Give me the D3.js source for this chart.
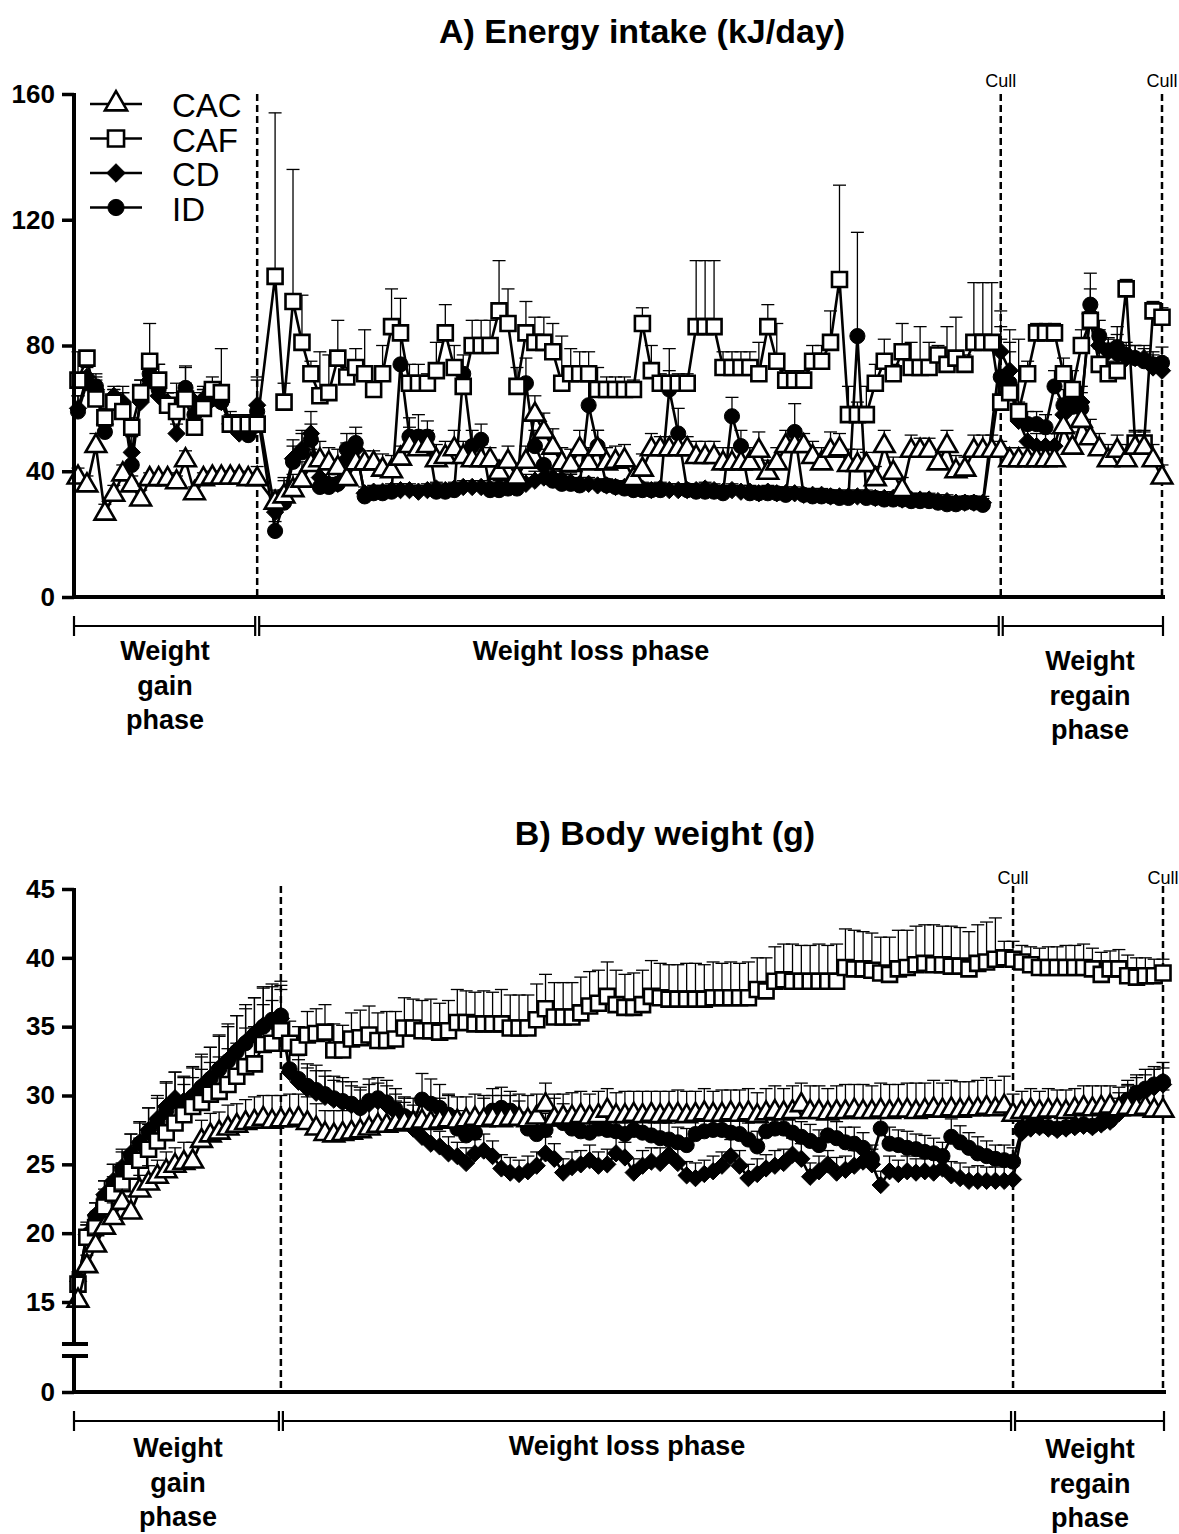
<!DOCTYPE html>
<html>
<head>
<meta charset="utf-8">
<script src="https://cdn.jsdelivr.net/npm/d3@7"></script>
<style>
body { margin: 0; background: #fff; }
text { font-family: "Liberation Sans", Arial, Helvetica, sans-serif; fill: #000; }
</style>
</head>
<body>
<svg id="chart" width="1179" height="1534"></svg>
<script>
// ---------- data ----------
var groups = ["CAC", "CAF", "CD", "ID"];
var ticksA = [0, 40, 80, 120, 160];
var ticksB = [15, 20, 25, 30, 35, 40, 45];

// panel A : energy intake (kJ/day), one value per day, day 0..121
// gain phase 0-20, (21 missing), loss phase 22-102, regain phase 103-121
var cacA = [38, 35.5, 48, 26.5, 32.5, 39, 35.5, 31, 37.5, 37.5, 37.5, 36.5, 43.5, 33, 37.5, 38, 38, 38, 38, 37.5, 37.5,
  null,
  30, 32, 34, 37, 42, 43.5, 42.5, 41, 37.5, 42.5,
  42.5, 42.5, 40.5, 40, 44, 48, 47, 48, 43.5, 44.5,
  47, 44.5, 43.5, 43.5, 43.5, 39.5, 43, 38, 43, 58,
  52.5, 47.5, 42.5, 42, 47, 42.5, 47, 42.5, 43, 43.5,
  37.5, 40.5, 47, 47, 47, 47, 47, 44.5, 44.5, 44.5,
  42.5, 42.5, 42.5, 42.5, 46.5, 39.5, 42.5, 48, 48, 48,
  44.5, 42.5, 46.5, 47, 42, 42, 42, 37.5, 48, 39.5,
  34, 46.5, 46.5, 46.5, 42.5, 48, 40, 40.5, 46.5, 46.5, 46.5,
  46.5, 43.5, 43.5, 43.5, 43.5, 43.5, 43.5, 54, 47.5, 56, 50.5, 47, 43.5, 46.5, 43.5, 47.5, 47.5, 43.5, 38];
var cacAerr = [3, 3, 4, 3, 3, 3, 3, 3, 2, 2, 2, 2, 3, 2, 2, 2, 2, 2, 2, 2, 4,
  null,
  4, 5, 5, 6, 5, 6, 5, 6, 5, 5,
  4, 4, 5, 5, 4, 6, 6, 5, 5, 5,
  6, 5, 5, 5, 4, 4, 5, 4, 5, 6,
  6, 6, 5, 5, 6, 5, 6, 5, 5, 5,
  4, 5, 5, 4, 4, 4, 4, 5, 5, 5,
  5, 5, 5, 5, 6, 4, 5, 5, 4, 4,
  5, 5, 6, 5, 5, 5, 4, 4, 5, 5,
  4, 5, 4, 4, 4, 5, 5, 4, 5, 5, 5,
  3, 4, 4, 4, 4, 4, 4, 6, 5, 6, 6, 5, 5, 5, 5, 5, 5, 5, 4];

var cafA = [69, 76, 63, 57, 62, 59, 54, 65, 75, 69, 61, 59, 63, 54, 60, 66, 65, 55, 55, 55, 55,
  null,
  102, 62, 94, 81, 71, 64, 65, 76, 70, 73,
  71, 66, 71, 86, 84, 68, 68, 68, 72, 84,
  73, 67, 80, 80, 80, 91, 87, 67, 84, 81,
  81, 78, 68, 71, 71, 71, 66, 66, 66, 66,
  66, 87, 72, 68, 68, 68, 68, 86, 86, 86,
  73, 73, 73, 73, 71, 86, 75, 69, 69, 69,
  75, 75, 81, 101, 58, 58, 58, 68, 75, 71,
  78, 73, 73, 73, 77, 74, 76, 74, 81, 81, 81,
  62, 65, 59, 71, 84, 84, 84, 71, 66, 80, 88, 74, 71, 72, 98, 49, 49, 91, 89];
var cafAerr = [9, 2, 7, 3, 4, 8, 3, 4, 12, 5, 4, 9, 10, 5, 7, 4, 14, 3, 3, 3, 5,
  null,
  52, 6, 42, 15, 4, 14, 12, 12, 3, 6,
  14, 2, 9, 12, 11, 6, 6, 3, 9, 9,
  7, 3, 8, 8, 8, 16, 11, 6, 10, 8,
  8, 9, 15, 8, 7, 7, 7, 4, 4, 4,
  3, 5, 8, 3, 11, 3, 3, 21, 21, 21,
  5, 5, 5, 5, 10, 7, 12, 3, 3, 3,
  5, 5, 10, 30, 9, 4, 9, 6, 7, 3,
  9, 8, 13, 8, 3, 12, 13, 3, 19, 19, 19,
  29, 20, 23, 4, 3, 3, 3, 5, 6, 5, 6, 5, 4, 14, 3, 4, 4, 3, 3];

var cdA = [60, 70, 66, 55, 64, 62, 46, 62, 69, 64, 62, 52, 64, 62, 63, 63, 62, 55, 52, 52, 61,
  null,
  27, 33, 44, 47, 52, 38, 36, 36, 44, 47,
  33, 33.5, 33.5, 34, 34, 34, 33.5, 34, 34.5, 34,
  34.5, 35, 35, 35, 34.5, 35, 35, 35.5, 36, 37,
  38, 38, 37.5, 36.5, 36, 36, 35.5, 35.5, 35, 35,
  34.5, 34.5, 34, 34.5, 34, 34, 34, 34, 34.5, 34,
  33.5, 34, 33.5, 33.5, 33, 33.5, 33, 33, 33, 32.5,
  32.5, 32.5, 32, 32, 32, 32, 32, 31.5, 31.5, 31.5,
  31, 31, 31, 31, 30.5, 30.5, 30, 30, 30, 30, null,
  78, 72, 56, 49.5, 48, 48, 48, 58, 62, 62, 90, 80, 78, 77, 76, 76, 76, 73, 72];
var cdAerr = [4, 3, 3, 3, 3, 3, 5, 3, 4, 4, 3, 3, 4, 3, 3, 3, 3, 3, 3, 3, 9,
  null,
  3, 5, 6, 6, 7, 4, 3, 3, 5, 5,
  2, 2, 2, 2, 2, 2, 2, 2, 2, 2,
  2, 2, 2, 2, 2, 2, 2, 2, 3, 3,
  3, 3, 3, 3, 2, 2, 2, 2, 2, 2,
  2, 2, 2, 2, 2, 2, 2, 2, 2, 2,
  2, 2, 2, 2, 2, 2, 2, 2, 2, 2,
  2, 2, 2, 2, 2, 2, 2, 2, 2, 2,
  2, 2, 2, 2, 2, 2, 2, 2, 2, 2, null,
  8, 9, 5, 4, 4, 4, 4, 5, 5, 5, 8, 5, 4, 4, 4, 4, 4, 4, 4];

var idA = [59, 68, 67, 52.5, 62, 61, 42, 64, 71, 66, 61, 60, 66.5, 58, 62, 63, 62, 55, 53, 51.5, 59,
  null,
  21, 30, 43, 46, 50, 35, 35, 36, 47, 49,
  32, 33, 33, 33.5, 74, 51, 51, 51, 33.5, 33.5,
  34, 71, 48, 50, 34, 34, 34.5, 34.5, 68, 48,
  42, 37, 36, 36, 35.5, 61, 48, 35.5, 35, 34.5,
  34, 34, 34, 34, 66, 52, 34, 33.5, 33.5, 33.5,
  33, 57.5, 48, 33, 33, 33, 33, 32.5, 52.5, 32.5,
  32, 32, 32, 31.5, 31.5, 83, 31.5, 31.5, 31, 31,
  31, 30.5, 30.5, 30.5, 30, 29.5, 29.5, 30, 30, 29.3, null,
  70, 68, 57, 55, 55, 54, 67, 61, 60.5, 60, 93, 83, 78.5, 79.5, 77, 76, 75, 74, 74.5];
var idAerr = [5, 3, 4, 4, 4, 4, 4, 5, 5, 8, 4, 5, 7, 4, 4, 5, 4, 4, 3, 3, 10,
  null,
  3, 4, 5, 6, 5, 3, 3, 3, 5, 5,
  2, 2, 2, 2, 10, 6, 7, 5, 2, 2,
  2, 6, 5, 5, 2, 2, 2, 2, 8, 5,
  5, 3, 3, 3, 2, 10, 5, 2, 2, 2,
  2, 2, 2, 2, 6, 8, 2, 2, 2, 2,
  2, 6, 5, 2, 2, 2, 2, 2, 9, 2,
  2, 2, 2, 2, 2, 33, 2, 2, 2, 2,
  2, 2, 2, 2, 2, 2, 2, 2, 2, 2, null,
  12, 10, 5, 4, 4, 4, 5, 5, 4, 5, 10, 5, 4, 4, 4, 4, 4, 4, 5];

// panel B : body weight (g), point 0..123
// gain phase 0-23, loss phase 24-106, regain phase 107-123
var cacB = [15.1, 17.6, 19.1, 20.4, 21.1, 22.2, 21.5, 23.1, 23.6, 24.1, 24.5, 24.9, 25.1, 25.2, 26.7, 27.1, 27.3, 27.6, 27.8, 28.0, 28.1, 28.3, 28.1, 28.2,
  28.2, 28.3, 28.0, 27.6, 27.2, 27.1, 27.2, 27.3, 27.4, 27.6,
  27.8, 27.8, 27.9, 28.0, 28.0, 28.1, 28.0, 28.1, 28.2, 28.1,
  28.2, 28.3, 28.2, 28.3, 28.2, 28.3, 28.3, 28.2, 28.4, 29.3,
  28.3, 28.4, 28.4, 28.5, 28.4, 28.5, 28.9, 28.5, 28.5, 28.6,
  28.5, 28.6, 28.5, 28.6, 28.6, 28.5, 28.6, 28.7, 28.6, 28.6,
  28.7, 28.6, 28.7, 28.5, 28.7, 28.8, 28.7, 28.8, 29.3, 28.8,
  28.8, 28.7, 28.8, 28.8, 28.9, 28.8, 28.8, 28.9, 28.8, 28.9,
  28.9, 28.8, 28.9, 29.0, 28.9, 29.0, 28.9, 29.0, 29.0, 29.1,
  29.0, 29.2, 28.6,
  28.8, 28.9, 28.8, 28.9, 28.9, 28.8, 29.0, 29.1, 29.0, 29.1, 29.2, 29.0, 29.1, 29.0, 29.1, 28.9, 28.9];
var cacBerr = [0.6, 0.8, 0.9, 1.0, 1.1, 1.0, 1.2, 1.1, 1.3, 1.2, 1.4, 1.3, 1.5, 1.4, 1.5, 1.6, 1.5, 1.7, 1.6, 1.7, 1.8, 1.7, 1.9, 1.8,
  1.9, 1.8, 1.9, 1.8, 1.7, 1.8, 1.7, 1.8, 1.7, 1.8,
  1.7, 1.8, 1.7, 1.8, 1.8, 1.7, 1.8, 1.7, 1.8, 1.8,
  1.7, 1.8, 1.8, 1.7, 1.8, 1.7, 1.8, 1.8, 1.7, 1.6,
  1.8, 1.7, 1.8, 1.8, 1.7, 1.8, 1.6, 1.7, 1.8, 1.7,
  1.8, 1.7, 1.8, 1.7, 1.8, 1.8, 1.7, 1.8, 1.7, 1.8,
  1.7, 1.8, 1.8, 1.7, 1.8, 1.9, 1.8, 1.9, 1.6, 1.9,
  1.9, 1.8, 1.9, 2.0, 1.9, 2.0, 1.9, 2.0, 2.0, 1.9,
  2.0, 2.1, 2.0, 2.1, 2.0, 2.1, 2.1, 2.0, 2.1, 2.2,
  2.1, 2.2, 1.5,
  1.5, 1.6, 1.5, 1.6, 1.5, 1.6, 1.5, 1.6, 1.7, 1.6, 1.5, 1.6, 1.7, 1.6, 1.7, 1.6, 1.5];

var cafB = [16.3, 19.7, 20.4, 21.9, 22.9, 23.6, 24.5, 25.3, 26.1, 26.7, 27.3, 28.0, 28.6, 29.2, 29.5, 30.1, 30.3, 30.8, 31.4, 32.1, 32.3, 33.7, 33.8, 34.7,
  33.8, 33.5, 34.4, 34.5, 34.6, 33.3, 33.3, 34.1, 34.2, 34.4,
  34.0, 34.0, 34.1, 34.9, 34.9, 34.7, 34.7, 34.6, 34.7, 35.3,
  35.3, 35.2, 35.2, 35.2, 35.2, 34.9, 34.9, 34.9, 35.5, 36.3,
  35.7, 35.7, 35.7, 36.0, 36.5, 36.7, 37.2, 36.6, 36.4, 36.4,
  36.6, 37.2, 37.1, 37.0, 37.0, 37.0, 37.0, 37.0, 37.1, 37.1,
  37.1, 37.1, 37.1, 37.7, 37.6, 38.3, 38.4, 38.3, 38.3, 38.3,
  38.3, 38.3, 38.3, 39.3, 39.2, 39.2, 39.1, 38.9, 38.8, 39.2,
  39.3, 39.5, 39.6, 39.5, 39.5, 39.4, 39.4, 39.2, 39.6, 39.7,
  39.9, 40.0, 39.9,
  39.7, 39.5, 39.3, 39.3, 39.3, 39.3, 39.3, 39.3, 39.2, 38.8, 39.2, 39.2, 38.7, 38.6, 38.7, 38.7, 38.9];
var cafBerr = [0.9, 1.1, 1.0, 1.3, 1.2, 1.5, 1.4, 1.6, 1.8, 1.7, 2.0, 1.9, 2.2, 2.1, 2.4, 2.3, 2.5, 2.6, 2.4, 2.8, 2.7, 2.9, 3.1, 3.0,
  1.6, 1.5, 1.7, 1.8, 2.0, 1.9, 1.8, 1.9, 2.0, 2.1,
  2.0, 2.1, 2.0, 2.2, 2.1, 2.2, 2.3, 2.1, 2.2, 2.4,
  2.3, 2.3, 2.4, 2.3, 2.5, 2.4, 2.4, 2.4, 2.6, 2.5,
  2.5, 2.5, 2.5, 2.6, 2.5, 2.4, 2.5, 2.5, 2.4, 2.5,
  2.5, 2.6, 2.5, 2.5, 2.5, 2.6, 2.6, 2.5, 2.6, 2.5,
  2.6, 2.5, 2.6, 2.3, 2.4, 2.5, 2.6, 2.7, 2.6, 2.6,
  2.7, 2.6, 2.7, 2.8, 2.8, 2.7, 2.7, 2.6, 2.7, 2.8,
  2.7, 2.8, 2.8, 2.9, 2.8, 2.9, 2.8, 2.7, 2.8, 2.9,
  3.0, 1.2, 1.3,
  1.2, 1.3, 1.4, 1.5, 1.5, 1.6, 1.6, 1.7, 1.5, 1.6, 1.3, 1.4, 1.5, 1.4, 1.3, 1.2, 1.0];

var cdB = [16.5, 19.9, 21.3, 22.8, 23.8, 24.8, 25.8, 26.6, 27.5, 28.3, 29.2, 29.8, 29.6, 30.0, 30.7, 31.3, 32.0, 32.6, 33.3, 33.9, 34.5, 35.1, 35.4, 35.6,
  31.7, 31.0, 30.5, 30.2, 29.9, 29.7, 29.5, 29.3, 29.1, 29.4,
  29.6, 29.3, 28.8, 28.3, 27.6, 27.0, 26.5, 26.3, 25.8, 25.6,
  25.1, 25.8, 26.0, 25.6, 24.7, 24.4, 24.3, 24.5, 24.9, 25.8,
  25.4, 24.4, 24.8, 25.0, 25.3, 24.9, 25.0, 25.8, 25.5, 24.4,
  24.9, 25.2, 25.1, 25.7, 25.1, 24.2, 24.0, 24.3, 24.5, 24.9,
  25.6, 24.9, 24.0, 24.3, 24.7, 24.9, 25.1, 25.7, 25.4, 24.1,
  24.5, 25.0, 24.4, 24.6, 24.9, 25.2, 25.0, 23.5, 24.5, 24.3,
  24.5, 24.4, 24.5, 24.4, 24.7, 24.2, 24.0, 23.8, 23.8, 23.8,
  23.8, 23.8, 23.9,
  27.3, 27.6, 27.7, 27.6, 27.5, 27.6, 27.7, 27.8, 27.7, 27.9, 28.1, 28.7, 29.5, 30.0, 30.3, 30.6, 30.8];
var cdBerr = [0.5, 0.7, 0.9, 1.0, 1.2, 1.3, 1.4, 1.5, 1.6, 1.7, 1.8, 1.9, 1.8, 2.0, 2.1, 2.2, 2.3, 2.4, 2.5, 2.4, 2.6, 2.7, 2.5, 2.4,
  1.5, 1.6, 1.5, 1.6, 1.5, 1.4, 1.5, 1.4, 1.3, 1.4,
  1.3, 1.4, 1.3, 1.2, 1.2, 1.1, 1.2, 1.1, 1.2, 1.0,
  1.1, 1.0, 1.2, 1.1, 1.0, 1.1, 1.0, 1.1, 1.0, 1.2,
  1.1, 1.0, 1.1, 1.0, 1.1, 1.0, 1.1, 1.2, 1.1, 1.0,
  1.1, 1.0, 1.1, 1.2, 1.1, 1.0, 1.1, 1.0, 1.1, 1.0,
  1.2, 1.1, 1.0, 1.1, 1.0, 1.1, 1.0, 1.2, 1.1, 1.0,
  1.1, 1.0, 1.1, 1.0, 1.1, 1.0, 1.1, 1.0, 1.1, 1.0,
  1.1, 1.0, 1.1, 1.0, 1.1, 1.0, 1.1, 1.0, 1.1, 1.0,
  1.0, 1.1, 1.0,
  1.0, 1.1, 1.0, 1.1, 1.0, 1.1, 1.0, 1.1, 1.0, 1.1, 1.2, 1.1, 1.2, 1.3, 1.2, 1.3, 1.2];

var idB = [16.6, 19.8, 21.2, 22.6, 23.6, 24.6, 25.6, 26.5, 27.3, 28.1, 28.9, 29.6, 29.4, 29.9, 30.6, 31.2, 31.9, 32.5, 33.2, 33.8, 34.4, 35.0, 35.5, 35.8,
  31.9, 31.2, 30.7, 30.4, 30.1, 29.8, 29.6, 29.4, 29.1, 29.6,
  29.8, 29.5, 29.0, 28.5, 28.0, 29.7, 29.4, 29.1, 28.6, 27.6,
  27.1, 27.3, 28.3, 28.9, 29.1, 28.9, 28.3, 27.6, 27.2, 27.5,
  28.3, 28.0, 27.6, 27.4, 27.3, 27.6, 27.5, 27.4, 27.2, 27.5,
  27.3, 27.1, 26.9, 26.8, 26.6, 26.4, 27.2, 27.4, 27.5, 27.5,
  27.3, 27.2, 26.8, 26.3, 27.4, 27.6, 27.6, 27.3, 27.0, 26.7,
  26.4, 27.1, 26.9, 26.6, 26.5, 26.2, 25.4, 27.6, 26.5, 26.4,
  26.2, 26.1, 25.9, 25.8, 25.6, 27.0, 26.6, 26.2, 25.8, 25.6,
  25.4, 25.3, 25.2,
  27.6, 27.8, 27.8, 27.7, 27.6, 27.7, 27.8, 27.9, 27.8, 28.0, 28.2, 28.9, 29.7, 30.2, 30.5, 30.8, 31.0];
var idBerr = [0.5, 0.8, 1.0, 1.2, 1.4, 1.3, 1.6, 1.5, 1.8, 1.7, 2.0, 2.1, 1.9, 2.2, 2.4, 2.3, 2.5, 2.7, 2.6, 2.8, 2.7, 2.9, 2.6, 2.5,
  1.6, 1.7, 1.6, 1.8, 1.7, 1.6, 1.7, 1.6, 1.5, 1.6,
  1.5, 1.6, 1.5, 1.4, 1.3, 1.9, 1.8, 1.7, 1.5, 1.3,
  1.2, 1.3, 1.5, 1.6, 1.5, 1.4, 1.3, 1.2, 1.3, 1.2,
  1.5, 1.4, 1.3, 1.2, 1.3, 1.2, 1.3, 1.2, 1.3, 1.2,
  1.3, 1.2, 1.1, 1.2, 1.1, 1.2, 1.4, 1.3, 1.2, 1.3,
  1.2, 1.3, 1.2, 1.1, 1.3, 1.2, 1.3, 1.2, 1.1, 1.2,
  1.1, 1.3, 1.2, 1.1, 1.2, 1.1, 1.0, 1.4, 1.2, 1.1,
  1.2, 1.1, 1.2, 1.1, 1.0, 1.3, 1.2, 1.1, 1.2, 1.1,
  1.0, 1.1, 1.0,
  1.2, 1.1, 1.2, 1.1, 1.2, 1.1, 1.2, 1.1, 1.2, 1.1, 1.2, 1.3, 1.4, 1.3, 1.4, 1.3, 1.4];

// phase boundaries (in point index)
var boundsA = [20, 103, 121];
var boundsB = [23, 106, 123];
// ---------------------------------------------

var svg = d3.select("#chart");
var diamond = { draw: function (ctx, size) { var r = Math.sqrt(size / 2); ctx.moveTo(0, -r); ctx.lineTo(r, 0); ctx.lineTo(0, r); ctx.lineTo(-r, 0); ctx.closePath(); } };

var styles = {
  CAC: { type: d3.symbolTriangle, size: 185, fill: "#fff", sw: 2.6 },
  CAF: { type: d3.symbolSquare, size: 225, fill: "#fff", sw: 2.6 },
  CD:  { type: diamond, size: 150, fill: "#000", sw: 1 },
  ID:  { type: d3.symbolCircle, size: 180, fill: "#000", sw: 1 }
};

function drawSeries(g, x, y, name, values, errs) {
  var st = styles[name];
  var pts = values.map(function (v, i) { return { i: i, v: v, e: errs[i] }; })
                  .filter(function (d) { return d.v != null; });
  var eb = g.append("g").attr("stroke", "#000").attr("stroke-width", 1.3);
  pts.forEach(function (d) {
    if (!d.e) return;
    var cx = x(d.i), yt = y(d.v + d.e);
    eb.append("line").attr("x1", cx).attr("x2", cx).attr("y1", y(d.v)).attr("y2", yt);
    eb.append("line").attr("x1", cx - 6.5).attr("x2", cx + 6.5).attr("y1", yt).attr("y2", yt);
  });
  g.append("path").datum(pts)
    .attr("d", d3.line().x(function (d) { return x(d.i); }).y(function (d) { return y(d.v); }))
    .attr("fill", "none").attr("stroke", "#000").attr("stroke-width", 2.6).attr("stroke-linejoin", "round");
  g.selectAll(null).data(pts).enter().append("path")
    .attr("transform", function (d) { return "translate(" + x(d.i) + "," + y(d.v) + ")"; })
    .attr("d", d3.symbol().type(st.type).size(st.size))
    .attr("fill", st.fill).attr("stroke", "#000").attr("stroke-width", st.sw);
}

function styleAxis(a) {
  a.select(".domain").remove();
  a.selectAll(".tick line").attr("stroke", "#000").attr("stroke-width", 3.5);
  a.selectAll(".tick text").attr("font-size", 26).attr("font-weight", "bold")
    .attr("font-family", '"Liberation Sans", Arial, sans-serif').attr("fill", "#000");
}

function vline(g, x, y1, y2, w, dash) {
  var l = g.append("line").attr("x1", x).attr("x2", x).attr("y1", y1).attr("y2", y2)
    .attr("stroke", "#000").attr("stroke-width", w);
  if (dash) l.attr("stroke-dasharray", dash);
  return l;
}
function hline(g, x1, x2, y, w) {
  return g.append("line").attr("x1", x1).attr("x2", x2).attr("y1", y).attr("y2", y)
    .attr("stroke", "#000").attr("stroke-width", w);
}

function phaseBracket(g, x, bounds, yb, axisX) {
  var edges = [axisX, x(bounds[0]), x(bounds[1]), x(bounds[2]) + 1];
  for (var k = 0; k < 3; k++) {
    var a = edges[k] + (k > 0 ? 2 : 0), b = edges[k + 1] - (k < 2 ? 2 : 0);
    hline(g, a, b, yb, 2.2);
    vline(g, a, yb - 10, yb + 10, 2.2);
    vline(g, b, yb - 10, yb + 10, 2.2);
  }
}

function label(g, x, y, lines, size) {
  lines.forEach(function (t, k) {
    g.append("text").attr("x", x).attr("y", y + k * 34.5).attr("text-anchor", "middle")
      .attr("font-size", size).attr("font-weight", "bold").text(t);
  });
}

function cull(g, x, bounds, y) {
  [bounds[1], bounds[2]].forEach(function (b) {
    g.append("text").attr("x", x(b)).attr("y", y).attr("text-anchor", "middle")
      .attr("font-size", 18).text("Cull");
  });
}

var axisX = 74;

// ================= Panel A =================
var gA = svg.append("g");
var xA = d3.scaleLinear().domain([0, 121]).range([78, 1162]);
var yA = d3.scaleLinear().domain([0, 160]).range([597, 94]);

gA.append("text").attr("x", 642).attr("y", 43).attr("text-anchor", "middle")
  .attr("font-size", 34).attr("font-weight", "bold").text("A) Energy intake (kJ/day)");

boundsA.forEach(function (b) { vline(gA, xA(b), yA(160), yA(0), 2.5, "7,4"); });
cull(gA, xA, boundsA, 87);

var dataA = { CAC: [cacA, cacAerr], CAF: [cafA, cafAerr], CD: [cdA, cdAerr], ID: [idA, idAerr] };
groups.slice().reverse().forEach(function (n) { drawSeries(gA, xA, yA, n, dataA[n][0], dataA[n][1]); });

var axA = gA.append("g").attr("transform", "translate(" + axisX + ",0)")
  .call(d3.axisLeft(yA).tickValues(ticksA).tickSize(12).tickSizeOuter(0).tickPadding(7));
styleAxis(axA);
vline(gA, axisX, yA(160) - 1, yA(0) + 2, 4);
hline(gA, axisX - 2, xA(121) + 3, yA(0), 4);

// legend
groups.forEach(function (n, k) {
  var ly = 104 + k * 34.5;
  hline(gA, 90, 142, ly, 2.4);
  gA.append("path").attr("transform", "translate(116," + ly + ")")
    .attr("d", d3.symbol().type(styles[n].type).size(styles[n].size * 1.15))
    .attr("fill", styles[n].fill).attr("stroke", "#000").attr("stroke-width", styles[n].sw);
  gA.append("text").attr("x", 172).attr("y", ly + 13).attr("font-size", 33).text(n);
});

phaseBracket(gA, xA, boundsA, 626, axisX);
label(gA, 165, 660, ["Weight", "gain", "phase"], 27);
label(gA, 591, 660, ["Weight loss phase"], 27);
label(gA, 1090, 670, ["Weight", "regain", "phase"], 27);

// ================= Panel B =================
var gB = svg.append("g");
var xB = d3.scaleLinear().domain([0, 123]).range([78, 1163]);
var yB = d3.scaleLinear().domain([15, 45]).range([1302, 889]);
var yB0 = d3.scaleLinear().domain([0, 10]).range([1392, 1356]);

gB.append("text").attr("x", 665).attr("y", 845).attr("text-anchor", "middle")
  .attr("font-size", 34).attr("font-weight", "bold").text("B) Body weight (g)");

boundsB.forEach(function (b) { vline(gB, xB(b), yB(45) - 3, yB0(0), 2.5, "7,4"); });
cull(gB, xB, boundsB, 884);

var dataB = { CAC: [cacB, cacBerr], CAF: [cafB, cafBerr], CD: [cdB, cdBerr], ID: [idB, idBerr] };
groups.slice().reverse().forEach(function (n) { drawSeries(gB, xB, yB, n, dataB[n][0], dataB[n][1]); });

var axB = gB.append("g").attr("transform", "translate(" + axisX + ",0)")
  .call(d3.axisLeft(yB).tickValues(ticksB).tickSize(12).tickSizeOuter(0).tickPadding(7));
styleAxis(axB);
var axB0 = gB.append("g").attr("transform", "translate(" + axisX + ",0)")
  .call(d3.axisLeft(yB0).tickValues([0]).tickSize(12).tickSizeOuter(0).tickPadding(7));
styleAxis(axB0);
vline(gB, axisX, yB(45) - 1, 1344, 4);
vline(gB, axisX, 1356, yB0(0) + 2, 4);
hline(gB, 62, 88, 1344, 4);
hline(gB, 62, 88, 1356, 4);
hline(gB, axisX - 2, xB(123) + 3, yB0(0), 4);

phaseBracket(gB, xB, boundsB, 1421, axisX);
label(gB, 178, 1457, ["Weight", "gain", "phase"], 27);
label(gB, 627, 1455, ["Weight loss phase"], 27);
label(gB, 1090, 1458, ["Weight", "regain", "phase"], 27);

// sanity check on array lengths
[[cacA, 122], [cafA, 122], [cdA, 122], [idA, 122], [cacAerr, 122], [cafAerr, 122], [cdAerr, 122], [idAerr, 122],
 [cacB, 124], [cafB, 124], [cdB, 124], [idB, 124], [cacBerr, 124], [cafBerr, 124], [cdBerr, 124], [idBerr, 124]]
  .forEach(function (p, k) {
    if (p[0].length !== p[1]) svg.append("text").attr("x", 400).attr("y", 780 + k * 14)
      .attr("fill", "red").attr("font-size", 12).text("len " + k + ": " + p[0].length);
  });
</script>
</body>
</html>
